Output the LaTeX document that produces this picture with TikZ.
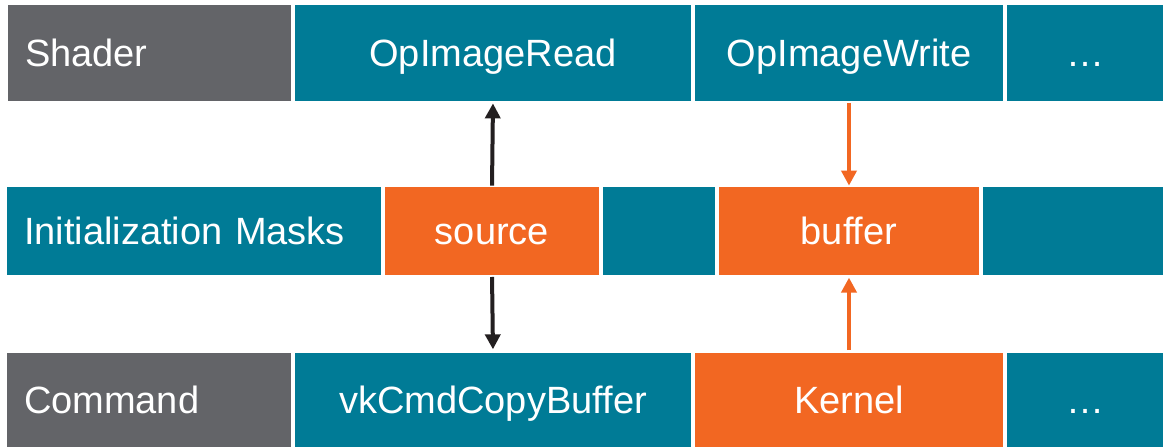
\documentclass[tikz,border=0pt]{standalone}
\usepackage{fontspec}
\setmainfont{Liberation Sans}
\usetikzlibrary{positioning,arrows.meta}
\definecolor{Teal}{RGB}{0,123,150}
\definecolor{Slate}{RGB}{99,100,104}
\definecolor{Ember}{RGB}{242,103,34}
\definecolor{Ink}{RGB}{35,31,32}

\begin{document}
\begin{tikzpicture}[x=1pt,y=1pt,node distance=4pt,
 c/.style={fill=#1,text=white,inner sep=0pt,outer sep=0pt,text height=27.5pt,text depth=0pt,font=\fontsize{38}{46}\selectfont},
 c/.default=Teal,
 lbl/.style={align=left,text width=#1,inner xsep=17pt},
 a/.style={-{Triangle[width=15pt,length=15pt]},line width=4pt,draw=#1},
 a/.default=Ink]
\useasboundingbox (0,0) rectangle (1163,447);
% shader row
\node[c=Slate,lbl=249pt,minimum height=96pt,anchor=west] (shader) at (8,394.2) {Shader};
\node[c,minimum width=396pt,minimum height=96pt,right=of shader] (opread) {OpImageRead};
\node[c,minimum width=308pt,minimum height=96pt,right=of opread] (opwrite) {OpImageWrite};
\node[c,minimum width=156pt,minimum height=96pt,right=of opwrite] (shmore) {…};
% mask row
\node[c,lbl=340pt,minimum height=88pt,anchor=west] (masks) at (7,216.4) {Initialization Masks};
\node[c=Ember,minimum width=214pt,minimum height=88pt,right=of masks] (src) {source};
\node[c,minimum width=112pt,minimum height=88pt,right=of src] (mgap) {};
\node[c=Ember,minimum width=260pt,minimum height=88pt,right=of mgap] (buf) {buffer};
\node[c,minimum width=180pt,minimum height=88pt,right=of buf] (mtail) {};
% command row
\node[c=Slate,lbl=250pt,minimum height=94.3pt,anchor=west] (cmd) at (7,47.1) {Command};
\node[c,minimum width=396pt,minimum height=94.3pt,right=of cmd] (copy) {vkCmdCopyBuffer};
\node[c=Ember,minimum width=308pt,minimum height=94.3pt,right=of copy] (kernel) {Kernel};
\node[c,minimum width=156pt,minimum height=94.3pt,right=of kernel] (cmdmore) {…};
% links
\draw[a,shorten <=1pt,shorten >=2.6pt] (src.north) -- (opread.south);
\draw[a,shorten <=2.4pt,shorten >=3.4pt] (src.south) -- (copy.north);
\draw[a=Ember,shorten <=2pt,shorten >=1pt] (opwrite.south) -- (buf.north);
\draw[a=Ember,shorten <=2.7pt,shorten >=3pt] (kernel.north) -- (buf.south);
\end{tikzpicture}
\end{document}
